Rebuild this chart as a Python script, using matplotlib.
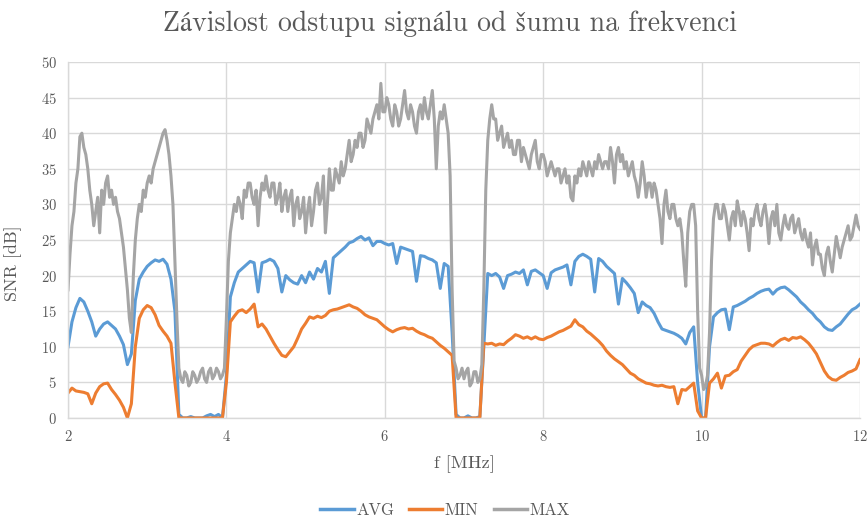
import numpy as np
import matplotlib
matplotlib.use("Agg")
import matplotlib.pyplot as plt

plt.rcParams['font.family'] = ['cmr10', 'STIXGeneral', 'DejaVu Serif']
plt.rcParams['axes.formatter.use_mathtext'] = True

# frequency axes [MHz]
freq = np.round(np.arange(2.0, 12.0001, 0.05), 3)        # AVG, MIN
freq_max = np.round(np.arange(2.0, 12.0001, 0.025), 3)   # MAX (noisier, finer)

snr_max = [
    18, 23, 27, 29, 33, 35, 39.5, 40, 38, 37, 35, 32, 30, 27, 29, 31, 26, 32, 30, 33,
    34, 31, 32, 30, 31, 29, 28, 26, 24, 21, 18, 14, 12, 20, 25, 28, 30, 29, 32, 31,
    33, 34, 33, 35, 36, 37, 38, 39, 40, 40.5, 39, 37, 34, 30, 22, 14, 7, 5.5, 5, 6.5,
    6, 4.5, 5, 6.5, 6, 5, 5.5, 6.5, 7, 5.5, 5, 6.5, 7, 5.5, 6, 7, 6.5, 5.5, 6, 7,
    14, 22, 26, 28, 30, 29, 31, 30, 28, 32, 31, 33, 33, 31, 30, 32, 27, 31, 33, 32,
    34, 32, 31, 33, 33, 30, 31, 33, 29, 31, 32, 29, 31, 32, 27, 30, 31, 28, 29, 31,
    26, 29, 31, 27, 29, 32, 33, 30, 31, 34, 26, 30, 35, 32, 32, 35, 34, 33, 36, 34,
    35, 37, 39, 36, 37, 39, 38, 40, 40, 38, 39, 42, 41, 40, 42, 43, 44, 42, 47, 43,
    43, 45, 44, 42, 41, 44, 43, 41, 42, 44, 46, 43, 42, 44, 43, 41, 40, 43, 44, 42,
    45, 43, 42, 44, 46, 42, 35, 41, 43, 42, 44, 42, 40, 34, 18, 8, 7, 5.5, 6, 7,
    5.5, 6.5, 7, 4.5, 5, 6.5, 6.5, 5, 5.5, 7.5, 18, 32, 39, 42, 44, 42, 42, 39, 40, 41,
    38, 39, 40, 38, 39, 37, 37, 39, 39, 36, 38, 37, 36, 35, 37, 38, 39, 36, 35, 37,
    37, 36, 34, 35, 36, 35, 34, 35, 35, 33, 34, 35, 33, 34, 31, 30.5, 34, 33, 35, 34,
    36, 35, 34, 36, 35, 34, 36, 35, 37, 36, 35, 36, 36, 35, 38, 36, 33, 37, 38, 36,
    37, 35, 36, 34, 35, 36, 34, 33, 31, 33, 36, 34, 31, 33, 33, 31, 33, 32, 30, 28,
    24.5, 30, 32, 29, 28, 30, 30, 28, 27, 28, 26, 22, 18.5, 26, 29, 30, 30, 27, 15, 7,
    6, 4, 4.5, 6, 12, 22, 28, 30, 30, 28, 28, 30, 29, 27, 25, 28, 29, 27, 30.5, 29,
    27, 29, 28, 26, 23.5, 28, 27, 29, 30, 28, 27, 29, 30, 28, 24.5, 28, 29, 27, 30, 26,
    25, 27, 28.5, 27, 26.5, 28, 28.5, 26, 27, 28, 26, 25, 26.5, 25, 24, 26, 21.5, 24, 25, 23,
    23, 21, 20, 23, 24, 22, 20.5, 23, 25.5, 24, 22.5, 24, 25, 26, 27, 25, 25.5, 27, 28.5, 27,
    26.5,
]

snr_avg = [
    10, 13.5, 15.5, 16.8, 16.3, 15, 13.5, 11.5, 12.5, 13.2, 13.5, 13, 12.5, 11.5, 10.3, 7.5, 9, 16.5, 19.5, 20.5,
    21.3, 21.8, 22.2, 22, 22.3, 21.6, 19.5, 15, 0.5, 0, 0, 0.2, 0, 0, 0, 0.3, 0.5, 0.2, 0.5, 0,
    6, 17, 19, 20.5, 21, 21.5, 22, 21.8, 17.7, 21.8, 22, 22.3, 22, 21, 17.7, 20, 19.4, 19, 18.8, 20,
    19, 20.5, 19.5, 21, 20.5, 22, 17.5, 22.5, 23, 23.5, 24, 24.6, 24.8, 25.2, 25.5, 25, 25.3, 24.2, 24.8, 24.8,
    24.5, 24.3, 24.5, 21.7, 24, 23.8, 23.6, 23.4, 19.2, 22.8, 22.7, 22.4, 22.2, 21.8, 18.2, 21.7, 21.3, 12, 0.5, 0,
    0, 0.3, 0, 0, 0.2, 10, 20.3, 20, 20.3, 19.8, 18.2, 20, 20.2, 20.5, 20.3, 20.8, 18.7, 20.6, 20.8, 20.4,
    20, 18.2, 20.4, 20.8, 21, 21.2, 21.5, 18.7, 22, 22.7, 23, 22.7, 22.3, 17.7, 22.4, 22, 21.3, 20.8, 20.3, 16,
    19.6, 19, 18.3, 17.5, 14.8, 16.3, 15.8, 15.5, 14.7, 13.5, 12.5, 12.3, 12.1, 11.9, 11.6, 11.2, 10.4, 12, 12.8, 5,
    0, 0, 10, 14.2, 14.8, 15.2, 15.3, 12.4, 15.6, 15.8, 16.1, 16.4, 16.8, 17.1, 17.5, 17.8, 18, 18.1, 17.4, 18,
    18.3, 18.4, 18, 17.5, 17, 16.3, 15.8, 15.2, 14.7, 14, 13.5, 12.8, 12.4, 12.3, 12.8, 13.2, 13.9, 14.6, 15.2, 15.5,
    16,
]

snr_min = [
    3.5, 4.2, 3.8, 3.7, 3.6, 3.4, 2, 3.5, 4.4, 4.8, 4.9, 4, 3.3, 2.5, 1.5, 0, 2, 10, 14, 15.2,
    15.8, 15.5, 14.5, 13, 12.2, 11.5, 10.5, 5, 0, 0, 0, 0, 0, 0, 0, 0, 0, 0, 0, 0,
    5, 13.5, 14.3, 15, 15.2, 14.8, 15.3, 16, 12.8, 13.2, 12.5, 11.5, 10.5, 9.6, 8.8, 8.6, 9.3, 10, 11.2, 12.5,
    13.3, 14.2, 14, 14.3, 14.1, 14.4, 15, 15.2, 15.3, 15.5, 15.7, 15.9, 15.6, 15.4, 15, 14.5, 14.2, 14, 13.8, 13.3,
    12.8, 12.4, 12.1, 12.4, 12.6, 12.7, 12.5, 12.6, 12.2, 11.9, 11.7, 11.4, 11.2, 10.7, 10.2, 9.8, 9.3, 8.8, 0, 0,
    0, 0, 0, 0, 0, 10.5, 10.4, 10.5, 10.2, 10.4, 10.3, 10.8, 11.2, 11.7, 11.5, 11.2, 11.4, 11.1, 11.4, 11.1,
    11, 11.3, 11.5, 11.8, 12.1, 12.3, 12.6, 12.9, 13.8, 13.1, 12.8, 12.2, 11.8, 11.3, 10.8, 10.2, 9.4, 8.8, 8.3, 7.9,
    7.5, 6.9, 6.3, 6, 5.5, 5.2, 4.9, 4.8, 4.6, 4.5, 4.6, 4.4, 4.3, 4.4, 2, 4, 3.9, 4.4, 4.9, 1,
    0, 0, 4.9, 5.5, 6.3, 4.2, 5.9, 6, 6.5, 6.8, 8, 8.8, 9.6, 10.1, 10.3, 10.5, 10.5, 10.4, 10.1, 10.6,
    11, 11.2, 10.9, 11.3, 11.2, 11.4, 11, 10.5, 9.8, 9, 7.8, 6.6, 5.8, 5.4, 5.3, 5.7, 6, 6.4, 6.6, 6.9,
    8.2,
]

series_names = ["AVG", "MIN", "MAX"]
series_colors = ["#5B9BD5", "#ED7D31", "#A5A5A5"]
x_ticks = [2, 4, 6, 8, 10, 12]
y_ticks = [0, 5, 10, 15, 20, 25, 30, 35, 40, 45, 50]

txt = "#595959"
grid_c = "#D9D9D9"

fig = plt.figure(figsize=(8.68, 5.21), dpi=100)
ax = fig.add_axes([68/868, 1-418/521, (860-68)/868, (418-62)/521])

for xs, vals, name, col in zip([freq, freq, freq_max], [snr_avg, snr_min, snr_max],
                               series_names, series_colors):
    ax.plot(xs, vals, color=col, lw=2.2, label=name, solid_joinstyle='round')

ax.set_xlim(2, 12)
ax.set_ylim(0, 50)
ax.set_xticks(x_ticks)
ax.set_yticks(y_ticks)
ax.grid(True, color=grid_c, lw=1.0)
ax.set_axisbelow(True)
for s in ["top", "right"]:
    ax.spines[s].set_visible(False)
for s in ["left", "bottom"]:
    ax.spines[s].set_color(grid_c)
    ax.spines[s].set_linewidth(1.0)
ax.tick_params(length=0, labelsize=10.5, labelcolor=txt, pad=8)

ax.set_xlabel("f [MHz]", fontsize=13.3, color=txt, labelpad=8)
ax.set_ylabel("SNR [dB]", fontsize=13, color=txt, labelpad=10)
ax.yaxis.set_label_coords(-0.058, 0.435)

fig.text(450/868, 1-24/521, "Závislost odstupu signálu od šumu na frekvenci",
         ha="center", va="center", fontsize=20, color=txt)

leg = fig.legend(loc="center", bbox_to_anchor=(445/868, 1-510/521), ncol=3,
                 frameon=False, fontsize=12, handlelength=2.0, handletextpad=0.15,
                 columnspacing=0.9)
for t in leg.get_texts():
    t.set_color(txt)
for l in leg.get_lines():
    l.set_linewidth(2.5)

fig.savefig("out.png", dpi=100)
